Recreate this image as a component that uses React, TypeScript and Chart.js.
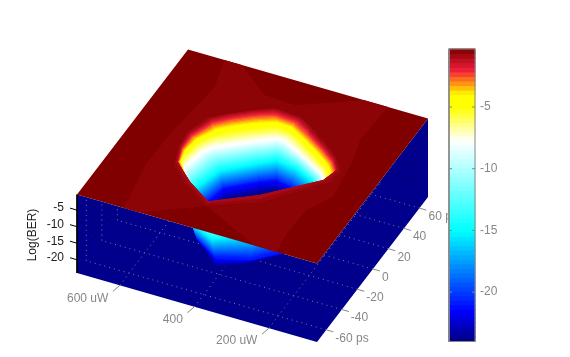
import React, { useEffect, useRef } from "react";
import { Chart, registerables } from "chart.js";

Chart.register(...registerables);

// ---- axes ----
const powerRange = [71, 715];
const timeRange = [-72, 71];
const berRange = [-24, -0.3];
const powerTicks = [600, 400, 200];
const powerTickLabels = ["600 uW", "400", "200 uW"];
const timeTicks = [-60, -40, -20, 0, 20, 40, 60];
const timeTickLabels = ["-60 ps", "-40", "-20", "0", "20", "40", "60 ps"];
const berTicks = [-5, -10, -15, -20];
const berTickLabels = ["-5", "-10", "-15", "-20"];
const berTitle = "Log(BER)";

// ---- contours of the eye: power (uW) and time (ps) per level ----
const contourLevels = [-0.55, -1.0, -2.5, -4.2, -7.7, -15, -21, -24];
const contourPower = [
  [412, 300, 180, 176, 268, 396, 499, 585, 568, 496],
  [418, 315, 201, 185, 277, 396, 495, 578, 570, 492],
  [418, 315, 201, 194, 286, 397, 491, 572, 573, 492],
  [425, 322, 216, 211, 301, 396, 481, 562, 578, 499],
  [425, 329, 232, 241, 322, 401, 464, 549, 568, 499],
  [424, 341, 264, 299, 358, 416, 454, 524, 551, 496],
  [419, 341, 277, 355, 375, 416, 450, 519, 533, 490],
  [419, 358, 299, 361, 380, 412, 445, 509, 522, 477],
];
const contourTime = [
  [-50.4, -35.2, -2.8, 12.4, 30.7, 49, 34.2, 15.2, -20.7, -37.8],
  [-45.5, -28.2, -1.4, 13.4, 30.8, 47.6, 34.5, 15.4, -16.9, -33.7],
  [-45.5, -28.2, -1.4, 14.4, 31, 46.3, 34.7, 15.7, -13.1, -33.7],
  [-41.3, -25.4, 0.2, 16.5, 31.7, 44.8, 34.1, 17.4, -7.4, -30.5],
  [-39.8, -25.2, -1.9, 19.8, 31, 40.8, 30.7, 15.2, -6.5, -29.8],
  [-37, -25, -6.2, 32.7, 39.5, 41.7, 34.4, 20.4, -0.6, -29.1],
  [-35.5, -29.1, -14.8, 38.1, 39.3, 41.5, 36.3, 22.5, 7.8, -24.8],
  [-34.8, -24.7, -10.2, 35.3, 37.4, 39.5, 33.8, 20.2, 8, -22],
];
// how much each contour's corners are rounded, and on which of its sides
const contourRounding = [0.3, 0.3, 0.28, 0.25, 0.15, 0.05, 0, 0];
const sideRounding = [0, 0, 0.6, 1, 1, 1, 1, 1, 0.6, 0];

// ---- plateau ----
const plateauLevel = -0.3;
const bandLevel = -0.5;
const bandPowerA = [618, 571, 470, 385, 244, 178, 184, 166, 148, 184, 188, 179, 237];
const bandTimeA = [71, 71, 52, 51, 71, 71, 37.8, 20.1, -14.2, -31.1, -54.7, -72, -72];
const bandPowerB = [549, 590, 615, 613, 593];
const bandTimeB = [-72, -72, -30.5, -0.9, 47.3];

// ---- colour map: level, r, g, b ----
const colourLevels = [-24, -21.5, -15, -7.7, -5, -4, -3, -2, -0.3];
const colourR = [0, 0, 0, 255, 255, 255, 255, 240, 128];
const colourG = [0, 0, 255, 255, 255, 255, 140, 30, 0];
const colourB = [128, 255, 255, 255, 0, 0, 20, 60, 0];
const colourSteps = 64;

const WALL = "rgb(0,0,140)";
const GREY = "rgb(135,135,135)";
const FONT = '12px "Liberation Sans", Arial, sans-serif';

function colourAt(z: number): string {
  const c = colourLevels;
  let i = 0;
  while (i < c.length - 2 && z > c[i + 1]) i++;
  const f = Math.max(0, Math.min(1, (z - c[i]) / (c[i + 1] - c[i])));
  const mix = (a: number[]) => Math.round(a[i] + (a[i + 1] - a[i]) * f);
  return `rgb(${mix(colourR)},${mix(colourG)},${mix(colourB)})`;
}

const fracP = (p: number) => (p - powerRange[0]) / (powerRange[1] - powerRange[0]);
const fracT = (t: number) => (t - timeRange[0]) / (timeRange[1] - timeRange[0]);
function project(p: number, t: number, z: number) {
  const u = fracP(p);
  const v = fracT(t);
  return { x: 317 - 240 * u + 111 * v, y: 342 - 69 * u - 145 * v - (z - berRange[0]) * 3.31 };
}

// corner-cut a contour so that its outline is round, as the shaded surface is
function roundedContour(level: number) {
  const ps = contourPower[level];
  const ts = contourTime[level];
  const out: { p: number; t: number }[] = [];
  ps.forEach((p, s) => {
    const n = (s + 1) % ps.length;
    const c = contourRounding[level] * sideRounding[s];
    out.push({ p: p + (ps[n] - p) * c, t: ts[s] + (ts[n] - ts[s]) * c });
    out.push({ p: p + (ps[n] - p) * (1 - c), t: ts[s] + (ts[n] - ts[s]) * (1 - c) });
  });
  return out;
}

type Pt = { x: number; y: number };
const poly = (data: Pt[], color: string, border = 0) => ({
  type: "scatter",
  data,
  showLine: true,
  fill: "shape",
  tension: 0,
  pointRadius: 0,
  borderWidth: border,
  borderColor: color,
  backgroundColor: color,
  clip: false,
});
const seg = (a: Pt, b: Pt, color: string, dash: number[] = [], width = 1, yAxisID = "y") => ({
  type: "scatter",
  data: [a, b],
  showLine: true,
  fill: false,
  tension: 0,
  pointRadius: 0,
  borderWidth: width,
  borderColor: color,
  borderDash: dash,
  yAxisID,
  clip: false,
});

function buildDatasets() {
  const [pMin, pMax] = powerRange;
  const [tMin, tMax] = timeRange;
  const [zMin, zMax] = berRange;
  const out: any[] = [];

  // walls
  out.push(
    poly([project(pMax, tMin, zMax), project(pMin, tMin, zMax), project(pMin, tMin, zMin), project(pMax, tMin, zMin)], WALL),
    poly([project(pMin, tMin, zMax), project(pMin, tMax, zMax), project(pMin, tMax, zMin), project(pMin, tMin, zMin)], WALL)
  );

  // grid
  const dot = [1, 4];
  const gridGrey = "rgb(125,125,155)";
  timeTicks.forEach((t) => {
    out.push(seg(project(pMin, t, zMin), project(pMax, t, zMin), gridGrey, dot));
    out.push(seg(project(pMax, t, zMin), project(pMax, t, zMax), gridGrey, dot));
  });
  powerTicks.forEach((p) => {
    out.push(seg(project(p, tMin, zMin), project(p, tMax, zMin), gridGrey, dot));
    out.push(seg(project(p, tMax, zMin), project(p, tMax, zMax), gridGrey, dot));
  });
  berTicks.forEach((z) => {
    out.push(seg(project(pMax, tMin, z), project(pMax, tMax, z), "rgb(0,0,30)", dot));
    out.push(seg(project(pMin, tMax, z), project(pMax, tMax, z), "rgb(0,0,30)", dot));
  });

  // eye surface, painted back to front
  const rings = contourLevels.map((_, i) => roundedContour(i));
  const quads: { depth: number; ds: any }[] = [];
  const count = contourLevels.length;
  const sectors = rings[0].length;
  for (let r = 0; r < count - 1; r++) {
    const z0 = contourLevels[r];
    const z1 = contourLevels[r + 1];
    const bands = Math.ceil(Math.abs(z1 - z0) / 0.3);
    for (let b = 0; b < bands; b++) {
      const f0 = b / bands;
      const f1 = (b + 1) / bands;
      const at = (s: number, f: number) => {
        const p = rings[r][s].p + (rings[r + 1][s].p - rings[r][s].p) * f;
        const t = rings[r][s].t + (rings[r + 1][s].t - rings[r][s].t) * f;
        return { p, t, z: z0 + (z1 - z0) * f };
      };
      for (let s = 0; s < sectors; s++) {
        const n = (s + 1) % sectors;
        const c = [at(s, f0), at(n, f0), at(n, f1), at(s, f1)];
        const depth = c.reduce((sum, q) => sum + 69 * fracP(q.p) + 145 * fracT(q.t), 0) / 4;
        const color = colourAt(z0 + (z1 - z0) * ((f0 + f1) / 2));
        const pts = c.map((q) => project(q.p, q.t, q.z));
        quads.push({ depth, ds: poly([...pts, pts[0]], color, 1) });
      }
    }
  }
  const last = count - 1;
  const floor = rings[last];
  quads.push({
    depth: floor.reduce((sum, q) => sum + 69 * fracP(q.p) + 145 * fracT(q.t), 0) / floor.length,
    ds: poly(floor.map((q) => project(q.p, q.t, contourLevels[last])), colourAt(contourLevels[last]), 1),
  });
  quads.sort((a, b) => b.depth - a.depth);
  quads.forEach((q) => out.push(q.ds));

  // plateau with the eye cut out
  const hole = rings[0].map((q) => project(q.p, q.t, contourLevels[0]));
  out.push(
    poly(
      [
        project(pMax, tMax, zMax),
        project(pMin, tMax, zMax),
        project(pMin, tMin, zMax),
        ...hole,
        hole[0],
        project(pMin, tMin, zMax),
        project(pMax, tMin, zMax),
      ],
      colourAt(plateauLevel)
    )
  );
  out.push(
    poly(
      [
        ...bandPowerA.map((p, i) => project(p, bandTimeA[i], plateauLevel)),
        ...hole,
        hole[0],
        ...bandPowerB.map((p, i) => project(p, bandTimeB[i], plateauLevel)),
      ],
      colourAt(bandLevel)
    )
  );

  // box edge and axis ticks
  out.push(seg(project(pMax, tMin, zMax), project(pMax, tMin, zMin), "rgb(0,0,0)"));
  berTicks.forEach((z) => {
    const a = project(pMax, tMin, z);
    out.push(seg(a, { x: a.x - 7, y: a.y - 2 }, "rgb(0,0,0)"));
  });
  powerTicks.forEach((p) => {
    const a = project(p, tMin, zMin);
    out.push(seg(a, { x: a.x - 7, y: a.y + 6 }, GREY));
  });
  timeTicks.forEach((t) => {
    const a = project(pMin, t, zMin);
    out.push(seg(a, { x: a.x + 7, y: a.y + 2 }, GREY));
  });

  // colour bar
  const barX = 462;
  const step = (zMax - zMin) / colourSteps;
  const barLevels = Array.from({ length: colourSteps }, (_, i) => zMin + step * i);
  out.push({
    type: "bar",
    data: barLevels.map((z) => ({ x: barX, y: [z, z + step] })),
    backgroundColor: barLevels.map((z) => colourAt(z + step / 2)),
    borderWidth: 0,
    barThickness: 26,
    inflateAmount: 0.5,
    yAxisID: "yBar",
    clip: false,
  });
  const bl = barX - 13;
  const br = barX + 13;
  out.push(
    seg({ x: bl, y: zMin }, { x: br, y: zMin }, GREY, [], 1, "yBar"),
    seg({ x: br, y: zMin }, { x: br, y: zMax }, GREY, [], 1, "yBar"),
    seg({ x: br, y: zMax }, { x: bl, y: zMax }, GREY, [], 1, "yBar"),
    seg({ x: bl, y: zMax }, { x: bl, y: zMin }, GREY, [], 1, "yBar")
  );
  berTicks.forEach((z) => {
    out.push(seg({ x: bl, y: z }, { x: bl + 3, y: z }, GREY, [], 1, "yBar"));
    out.push(seg({ x: br - 3, y: z }, { x: br, y: z }, GREY, [], 1, "yBar"));
  });
  // the first dataset is painted last
  return out.reverse();
}

const labelsPlugin = {
  id: "axisLabels",
  beforeDatasetsDraw(chart: any) {
    const { ctx, scales } = chart;
    const px = (v: number) => scales.x.getPixelForValue(v);
    const py = (v: number) => scales.y.getPixelForValue(v);
    const [pMin] = powerRange;
    const [tMin] = timeRange;
    const zMin = berRange[0];
    ctx.save();
    ctx.font = FONT;
    ctx.textBaseline = "middle";
    ctx.fillStyle = GREY;
    ctx.textAlign = "right";
    powerTicks.forEach((p, i) => {
      const a = project(p, tMin, zMin);
      ctx.fillText(powerTickLabels[i], px(a.x - 11.5), py(a.y + 13));
    });
    ctx.textAlign = "left";
    timeTicks.forEach((t, i) => {
      const a = project(pMin, t, zMin);
      ctx.fillText(timeTickLabels[i], px(a.x + 9), py(a.y + 8.5));
    });
    berTicks.forEach((z, i) => {
      ctx.fillText(berTickLabels[i], px(480), scales.yBar.getPixelForValue(z));
    });
    ctx.fillStyle = "rgb(30,30,30)";
    ctx.textAlign = "right";
    berTicks.forEach((z, i) => {
      const a = project(powerRange[1], tMin, z);
      ctx.fillText(berTickLabels[i], px(a.x - 13), py(a.y - 2));
    });
    ctx.translate(px(33), py(235));
    ctx.rotate(-Math.PI / 2);
    ctx.textAlign = "center";
    ctx.fillText(berTitle, 0, 0);
    ctx.restore();
  },
};

export default function App() {
  const ref = useRef<HTMLCanvasElement>(null);
  useEffect(() => {
    if (!ref.current) return;
    const chart = new Chart(ref.current, {
      type: "scatter",
      data: { datasets: buildDatasets() as any },
      plugins: [labelsPlugin as any],
      options: {
        animation: false,
        responsive: false,
        events: [],
        layout: { padding: 0 },
        plugins: { legend: { display: false }, tooltip: { enabled: false } },
        scales: {
          x: { type: "linear", min: 0, max: 570, display: false, offset: false },
          y: { type: "linear", min: 0, max: 357, reverse: true, display: false },
          // the colour bar's value axis: -0.3 sits at 49px, -24 at 341.5px
          yBar: { type: "linear", min: -25.256, max: 3.671, display: false },
        },
      } as any,
    });
    return () => chart.destroy();
  }, []);
  return (
    <div style={{ position: "fixed", left: 0, top: 0, width: 570, height: 357, background: "#fff" }}>
      <canvas ref={ref} width={570} height={357} style={{ display: "block" }} />
    </div>
  );
}
